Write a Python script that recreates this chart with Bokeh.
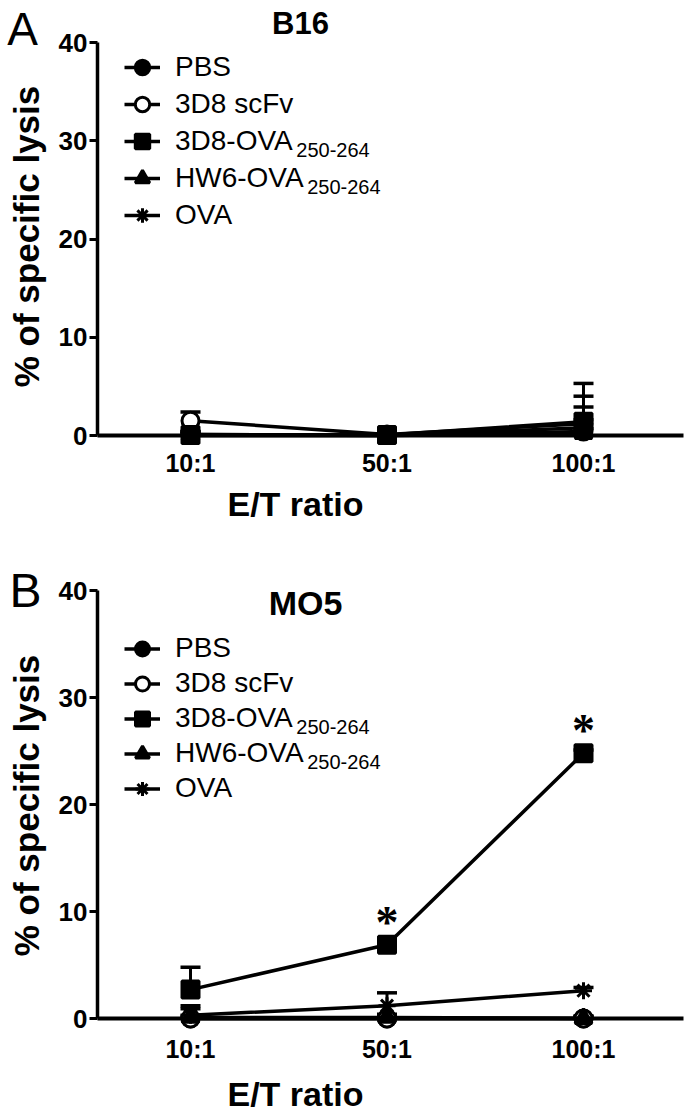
import math
from bokeh.plotting import figure
from bokeh.models import (Range1d, FixedTicker, LinearAxis, Whisker, TeeHead, ColumnDataSource,
                          Legend, LegendItem, Label, LabelSet)
from bokeh.layouts import column
from bokeh.embed import file_html
from bokeh.resources import INLINE

# ---------------- data ----------------
categories = ["10:1", "50:1", "100:1"]
series = ["PBS", "3D8 scFv", "3D8-OVA", "HW6-OVA", "OVA"]
subscripts = ["", "", "250-264", "250-264", ""]
y_ticks = [0, 10, 20, 30, 40]
x_title = "E/T ratio"
y_title = "% of specific lysis"

# B16 (panel A)
b16_pbs = [0.1, 0.05, 0.4]
b16_pbs_err = [0.3, 0.2, 1.2]
b16_scfv = [1.5, 0.1, 1.2]
b16_scfv_err = [0.9, 0.2, 2.8]
b16_3d8ova = [0.05, 0.05, 1.4]
b16_3d8ova_err = [0.3, 0.2, 3.9]
b16_hw6ova = [0.0, 0.0, 0.2]
b16_hw6ova_err = [0.2, 0.1, 0.5]
b16_ova = [0.1, 0.0, 0.8]
b16_ova_err = [0.3, 0.2, 2.1]

# MO5 (panel B)
mo5_pbs = [0.0, 0.0, 0.0]
mo5_pbs_err = [0.2, 0.2, 0.2]
mo5_scfv = [0.0, 0.0, 0.0]
mo5_scfv_err = [0.3, 0.2, 0.2]
mo5_3d8ova = [2.7, 6.9, 24.8]
mo5_3d8ova_err = [2.1, 0.3, 0.3]
mo5_hw6ova = [0.1, 0.1, 0.0]
mo5_hw6ova_err = [0.8, 0.3, 0.2]
mo5_ova = [0.3, 1.2, 2.6]
mo5_ova_err = [0.9, 1.2, 0.3]
mo5_sig_idx = [1, 2]  # significance marks on 3D8-OVA

FONT = "Liberation Sans"
markers = ["circle", "circle", "square", "triangle", "asterisk"]
fills = ["black", "white", "black", "black", "black"]

# Arial advance widths (em) for measuring legend labels
ARIAL_W = {"3": .556, "D": .722, "8": .556, "-": .333, "O": .778, "V": .667, "A": .667,
           "H": .722, "W": .944, "6": .556}


def text_w(s, fs):
    return sum(ARIAL_W.get(c, .556) for c in s) * fs


W = 685
LEG_FS = 28
GLYPH_W = 36
GLYPH_X = 124
LABEL_STANDOFF = 15


def make_panel(title, letter, vals, errs, sig_idx, g):
    H = g["height"]
    # pixel geometry -> data ranges (frame covers the whole canvas)
    sx = g["x_step"]
    sy = (g["y0px"] - g["y40px"]) / 40.0
    px2x = lambda px: (px - g["x0px"]) / sx
    px2y = lambda py: (g["y0px"] - py) / sy

    p = figure(width=W, height=H, output_backend="svg", toolbar_location=None,
               x_range=Range1d(px2x(0), px2x(W)), y_range=Range1d(px2y(H), px2y(0)),
               x_axis_location=None, y_axis_location=None,
               min_border=0, min_border_left=0, min_border_right=0,
               min_border_top=0, min_border_bottom=0)
    p.outline_line_color = None
    p.grid.visible = False
    p.background_fill_color = "white"
    p.border_fill_color = "white"

    xs = list(range(len(categories)))
    yaxis_x = px2x(g["axis_px"])

    ya = LinearAxis(fixed_location=yaxis_x, ticker=FixedTicker(ticks=y_ticks), bounds=(0, 40))
    ya.axis_line_width = 3.5
    ya.major_tick_line_width = 3
    ya.major_tick_out = 8
    ya.major_tick_in = 0
    ya.minor_tick_line_color = None
    ya.major_label_standoff = 2
    ya.major_label_text_font = FONT
    ya.major_label_text_font_size = "26px"
    ya.major_label_text_font_style = "bold"
    ya.major_label_text_color = "black"
    p.add_layout(ya, "left")

    xa = LinearAxis(fixed_location=0, ticker=FixedTicker(ticks=xs),
                    bounds=(yaxis_x, px2x(g["xend_px"])))
    xa.major_label_overrides = {i: c for i, c in enumerate(categories)}
    xa.axis_line_width = 4
    xa.major_tick_line_color = None
    xa.minor_tick_line_color = None
    xa.major_tick_out = 0
    xa.major_tick_in = 0
    xa.major_label_standoff = g["xlab_standoff"]
    xa.major_label_text_font = FONT
    xa.major_label_text_font_size = "25px"
    xa.major_label_text_font_style = "bold"
    xa.major_label_text_color = "black"
    p.add_layout(xa, "below")

    items = []
    for k, name in enumerate(series):
        v = vals[k]
        e = errs[k]
        src = ColumnDataSource(dict(x=xs, y=v, upper=[a + b for a, b in zip(v, e)]))
        p.add_layout(Whisker(source=src, base="x", lower="y", upper="upper", dimension="height",
                             line_color="black", line_width=3, level="underlay",
                             upper_head=TeeHead(size=20, line_width=3.5, line_color="black"),
                             lower_head=None))
        lr = p.line("x", "y", source=src, line_color="black", line_width=3.5)
        sr = p.scatter("x", "y", source=src, marker=markers[k], size=17,
                       fill_color=fills[k], line_color="black", line_width=3)
        items.append(LegendItem(label=name, renderers=[lr, sr]))

    RH = g["pitch"] - g["spacing"]
    leg_h = 5 * RH + 4 * g["spacing"]
    first_top = g["row0"] - RH / 2
    legend = Legend(items=items, location=(GLYPH_X, H - first_top - leg_h), padding=0,
                    spacing=g["spacing"], glyph_height=RH, glyph_width=GLYPH_W, label_height=RH,
                    label_standoff=LABEL_STANDOFF, label_text_font=FONT,
                    label_text_font_size=f"{LEG_FS}px",
                    label_text_color="black", border_line_color=None,
                    background_fill_alpha=0)
    p.add_layout(legend)

    # subscripts in legend labels
    text_x0 = GLYPH_X + GLYPH_W + LABEL_STANDOFF
    for k, sub in enumerate(subscripts):
        if sub:
            p.add_layout(Label(x=px2x(text_x0 + text_w(series[k], LEG_FS) + 1),
                               y=px2y(g["row0"] + k * g["pitch"] + 8),
                               text=sub, text_font=FONT, text_font_size="20px",
                               text_baseline="middle", text_align="left", text_color="black"))

    # significance stars
    if sig_idx:
        sv = vals[2]
        ssrc = ColumnDataSource(dict(x=[xs[i] for i in sig_idx], y=[sv[i] for i in sig_idx],
                                     t=["*"] * len(sig_idx)))
        p.add_layout(LabelSet(x="x", y="y", text="t", source=ssrc, y_offset=7,
                              text_font=FONT, text_font_size="46px", text_font_style="bold",
                              text_align="center", text_baseline="alphabetic",
                              text_color="black"))

    def label(text, cx, cy, fs, style="normal", angle=0.0):
        p.add_layout(Label(x=px2x(cx), y=px2y(cy), text=text, text_font=FONT,
                           text_font_size=fs, text_font_style=style, angle=angle,
                           text_align="center", text_baseline="middle", text_color="black"))

    label(title, g["title_c"][0], g["title_c"][1], g["title_fs"], "bold")
    label(letter, g["letter_c"][0], g["letter_c"][1], g["letter_fs"])
    label(x_title, g["xt_c"][0], g["xt_c"][1], "34px", "bold")
    label(y_title, g["yt_c"][0], g["yt_c"][1], "35px", "bold", math.pi / 2)
    return p


gA = dict(height=548, x0px=190, x_step=196.5, y40px=42, y0px=435, axis_px=97, xend_px=683,
          xlab_standoff=13, row0=67, pitch=37, spacing=1,
          title_c=(300, 23), title_fs="31px", letter_c=(22, 28), letter_fs="46px",
          xt_c=(295, 503), yt_c=(26, 236))
gB = dict(height=570, x0px=190, x_step=196.5, y40px=42, y0px=470, axis_px=97, xend_px=683,
          xlab_standoff=16, row0=100, pitch=35, spacing=0,
          title_c=(305, 54), title_fs="34px", letter_c=(25, 42), letter_fs="48px",
          xt_c=(295, 545), yt_c=(26, 257))

pA = make_panel("B16", "A",
                [b16_pbs, b16_scfv, b16_3d8ova, b16_hw6ova, b16_ova],
                [b16_pbs_err, b16_scfv_err, b16_3d8ova_err, b16_hw6ova_err, b16_ova_err],
                None, gA)
pB = make_panel("MO5", "B",
                [mo5_pbs, mo5_scfv, mo5_3d8ova, mo5_hw6ova, mo5_ova],
                [mo5_pbs_err, mo5_scfv_err, mo5_3d8ova_err, mo5_hw6ova_err, mo5_ova_err],
                mo5_sig_idx, gB)

layout = column(pA, pB, spacing=0)
open("out.html", "w").write(file_html(layout, INLINE))
